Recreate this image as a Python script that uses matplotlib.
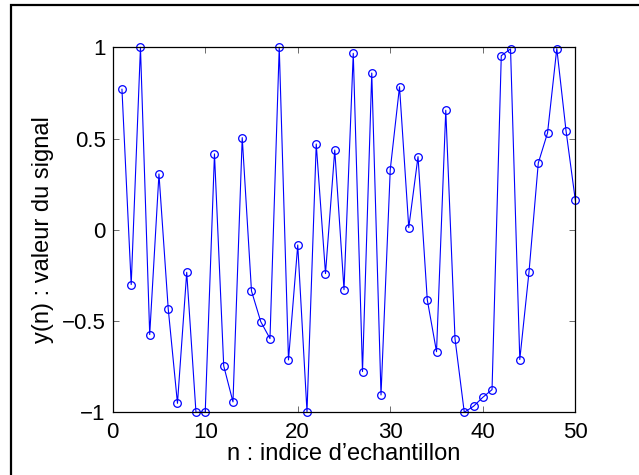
import matplotlib
matplotlib.use("Agg")
import matplotlib.pyplot as plt
from matplotlib.patches import Rectangle
import numpy as np

# sample index and signal values
n = np.arange(1, 51)
y = [
    0.770, -0.300, 1.000, -0.574, 0.306, -0.432, -0.951, -0.233, -1.000, -1.000,
    0.416, -0.746, -0.943, 0.505, -0.335, -0.503, -0.596, 1.000, -0.713, -0.083,
    -0.997, 0.470, -0.240, 0.437, -0.328, 0.967, -0.777, 0.859, -0.905, 0.330,
    0.784, 0.012, 0.401, -0.383, -0.668, 0.655, -0.598, -1.000, -0.967, -0.918,
    -0.876, 0.954, 0.991, -0.711, -0.229, 0.366, 0.531, 0.993, 0.542, 0.163,
]
xticks = [0, 10, 20, 30, 40, 50]
yticks = [-1, -0.5, 0, 0.5, 1]
yticklabels = ["\u22121", "\u22120.5", "0", "0.5", "1"]

plt.rcParams["font.family"] = ["Liberation Sans", "DejaVu Sans"]

fig = plt.figure(figsize=(6.39, 4.75), dpi=100)
ax = fig.add_axes([112.7 / 639, 1 - 412.3 / 475, (575.3 - 112.7) / 639, (412.3 - 47.3) / 475])

ax.plot(n, y, "-o", color="blue", lw=0.8, markersize=5.5,
        markerfacecolor="none", markeredgewidth=0.9, clip_on=False)

ax.set_xlim(0, 50)
ax.set_ylim(-1, 1)
ax.set_xticks(xticks)
ax.set_yticks(yticks)
ax.set_yticklabels(yticklabels)
ax.tick_params(direction="in", length=4, width=0.6, top=True, right=True,
               labelsize=16, color="#555555")
ax.tick_params(axis="x", pad=7)
ax.tick_params(axis="y", pad=5)
for s in ax.spines.values():
    s.set_linewidth(0.9)

ax.set_xlabel("n : indice d\u2019echantillon", fontsize=17, labelpad=0)
ax.set_ylabel("y(n) : valeur du signal", fontsize=17, labelpad=6)

# outer frame, cut off at the right and bottom like the reference
fig.patches.append(Rectangle((11 / 639, -0.2), 1.5, 1 - 5 / 475 + 0.2,
                             transform=fig.transFigure, fill=False,
                             edgecolor="black", lw=1.6, clip_on=False))

fig.savefig("out.png", dpi=100)
